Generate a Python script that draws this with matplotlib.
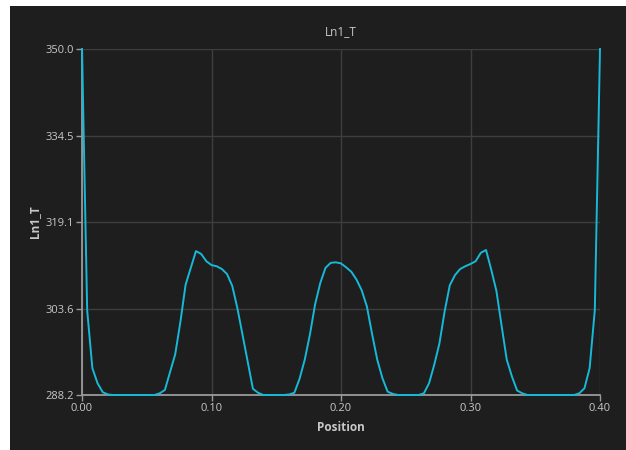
import matplotlib
matplotlib.use('Agg')
import matplotlib.pyplot as plt
import matplotlib.patches as mpatches
import numpy as np

# ── colours ────────────────────────────────────────────────────────────────────
BG    = '#1e1e1e'
GRID  = '#3e3e3e'
AXIS  = '#9a9a9a'
TEXT  = '#c8c8c8'
LINE  = '#17b8d8'

plt.rcParams['font.family'] = ['Open Sans', 'DejaVu Sans']

# ── data ───────────────────────────────────────────────────────────────────────
position = np.linspace(0.0, 0.40, 101)
ln1_t = [
    350.0, 303.3, 293.0, 290.3, 288.7, 288.3, 288.2, 288.2, 288.2, 288.2,
    288.2, 288.2, 288.2, 288.2, 288.2, 288.5, 289.1, 292.3, 295.5, 301.3,
    307.9, 310.9, 313.9, 313.4, 312.1, 311.4, 311.2, 310.7, 309.8, 307.7,
    303.7, 298.9, 294.1, 289.3, 288.6, 288.2, 288.2, 288.2, 288.2, 288.2,
    288.3, 288.6, 291.1, 294.5, 299.0, 304.4, 308.2, 310.9, 311.8, 311.9,
    311.7, 311.0, 310.2, 308.8, 306.9, 304.0, 299.1, 294.5, 291.2, 288.8,
    288.4, 288.2, 288.2, 288.2, 288.2, 288.2, 288.5, 290.3, 293.6, 297.4,
    303.1, 307.8, 309.6, 310.7, 311.2, 311.6, 312.1, 313.6, 314.1, 310.6,
    306.8, 300.6, 294.5, 291.5, 289.0, 288.5, 288.2, 288.2, 288.2, 288.2,
    288.2, 288.2, 288.2, 288.2, 288.2, 288.2, 288.5, 289.4, 293.0, 303.4,
    350.0,
]
x_ticks = [0.00, 0.10, 0.20, 0.30, 0.40]
y_ticks = [288.2, 303.6, 319.1, 334.5, 350.0]

# ── figure ─────────────────────────────────────────────────────────────────────
fig = plt.figure(figsize=(6.26, 4.5), dpi=100)
fig.patch.set_facecolor('white')
panel = mpatches.Rectangle((10 / 626, 0), 1, 444 / 450,
                           transform=fig.transFigure,
                           facecolor=BG, edgecolor='none')
panel.set_zorder(-10)
fig.add_artist(panel)

ax = fig.add_axes([82 / 626, 55 / 450, 518 / 626, 346 / 450])
ax.set_facecolor(BG)

ax.plot(position, ln1_t, color=LINE, linewidth=1.4, zorder=3, clip_on=False)

ax.set_xlim(0.0, 0.40)
ax.set_ylim(288.2, 350.0)
ax.set_xticks(x_ticks)
ax.set_xticklabels([f'{v:.2f}' for v in x_ticks])
ax.set_yticks(y_ticks)
ax.set_yticklabels([f'{v:.1f}' for v in y_ticks])

ax.grid(True, color=GRID, linewidth=1.0, zorder=1)
for side in ['top', 'right']:
    ax.spines[side].set_visible(False)
for side in ['left', 'bottom']:
    ax.spines[side].set_color(AXIS)
    ax.spines[side].set_linewidth(1.3)

ax.tick_params(colors=AXIS, labelcolor=TEXT, labelsize=8, length=4,
               width=1.0, direction='out', pad=2)

ax.set_title('Ln1_T', color=TEXT, fontsize=8.5, pad=10)
ax.set_xlabel('Position', color=TEXT, fontsize=8.5, fontweight='bold', labelpad=5)
ax.set_ylabel('Ln1_T', color=TEXT, fontsize=8.5, fontweight='bold', labelpad=3)

plt.savefig('out.png', dpi=100, facecolor='white')
plt.close()
